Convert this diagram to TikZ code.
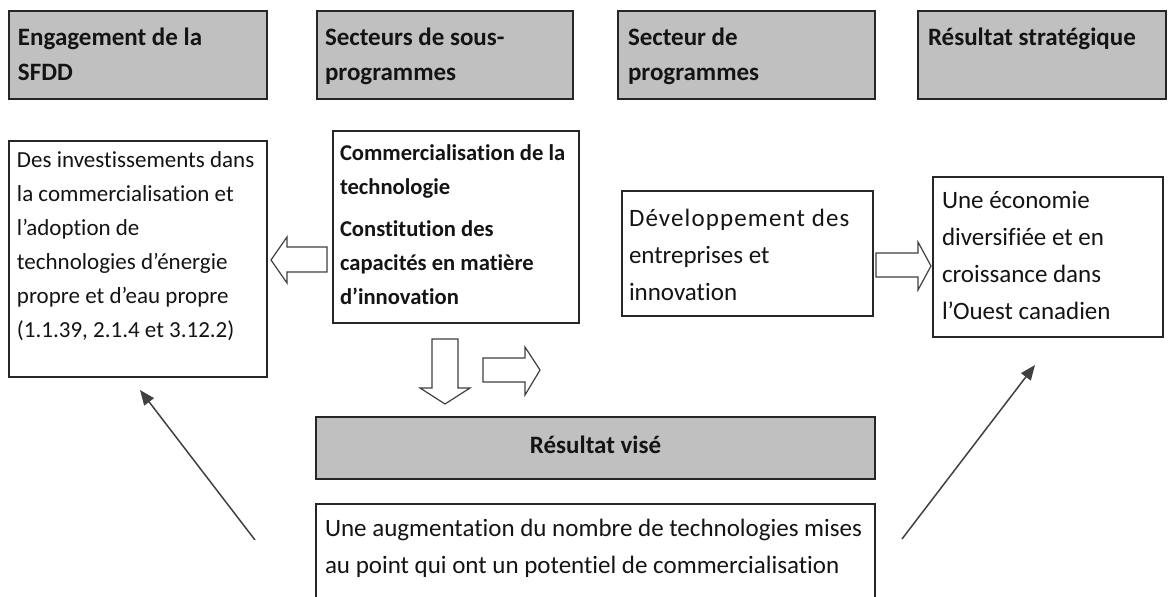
\documentclass[tikz,border=0pt]{standalone}
\usepackage{fontspec}
\setmainfont{Carlito}[Ligatures=NoCommon]
\newfontfamily\spacedfont{Carlito}[Ligatures=NoCommon,LetterSpace=4.5]
\usetikzlibrary{arrows.meta}
\definecolor{hdrgray}{RGB}{192,192,192}
\definecolor{boxline}{RGB}{38,38,38}
\definecolor{txtcol}{RGB}{20,20,20}
\definecolor{arrcol}{RGB}{64,64,64}
\begin{document}
\begin{tikzpicture}[x=0.5pt,y=-0.5pt,
  every node/.style={inner sep=0pt,outer sep=0pt},
  hdrbox/.style={draw=boxline,line width=0.8pt,fill=hdrgray},
  cbox/.style={draw=boxline,line width=0.8pt,fill=white},
  htext/.style={font=\bfseries\fontsize{12.5}{17.5}\selectfont,align=left,anchor=north west,text=txtcol},
  btext/.style={font=\bfseries\fontsize{11.3}{17}\selectfont,align=left,anchor=north west,text=txtcol},
  ltext/.style={font=\fontsize{11.5}{17}\selectfont,align=left,anchor=north west,text=txtcol},
  rtext/.style={font=\fontsize{12.5}{18.5}\selectfont,align=left,anchor=north west,text=txtcol},
  hollow/.style={draw=arrcol,line width=0.6pt,fill=white,line join=miter},
  thinarrow/.style={draw=arrcol,line width=0.75pt,-{Triangle[length=7.5pt,width=6pt]}}
]
\useasboundingbox (0,0) rectangle (1168,597);

% header boxes
\node[hdrbox,minimum width=129pt,minimum height=44pt] (h1) at (138,55) {};
\node[hdrbox,minimum width=128pt,minimum height=44pt] (h2) at (445,55) {};
\node[hdrbox,minimum width=128.5pt,minimum height=44pt] (h3) at (746.5,55) {};
\node[hdrbox,minimum width=124pt,minimum height=44pt] (h4) at (1042,55) {};
\node[htext] (h1t) at (18,27.5) {Engagement de la\\SFDD};
\node[htext] (h2t) at (325,27.5) {Secteurs de sous-\\programmes};
\node[htext] (h3t) at (628,27.5) {Secteur de\\programmes};
\node[htext] (h4t) at (928,27.5) {Résultat stratégique};

% content boxes
\node[cbox,minimum width=129pt,minimum height=118pt] (left) at (138,259) {};
\node[ltext] (leftt) at (17,152) {Des investissements dans\\la commercialisation et\\l’adoption de\\technologies d’énergie\\propre et d’eau propre\\(1.1.39, 2.1.4 et 3.12.2)};

\node[cbox,minimum width=123pt,minimum height=96pt] (mid) at (456,227) {};
\node[btext] (midt) at (340,145) {Commercialisation de la\\technologie\\[4pt]Constitution des\\capacités en matière\\d’innovation};

\node[cbox,minimum width=125.5pt,minimum height=62.5pt] (dev) at (747.5,253.5) {};
\node[rtext] (devt) at (629,209.5) {{\spacedfont Développement des}\\entreprises et\\innovation};

\node[cbox,minimum width=115pt,minimum height=80pt] (right) at (1048,257) {};
\node[rtext] (rightt) at (942,191.5) {Une économie\\diversifiée et en\\croissance dans\\l’Ouest canadien};

\node[hdrbox,minimum width=279.5pt,minimum height=31pt] (vise) at (595.5,448) {};
\node[font=\bfseries\fontsize{12.5}{17}\selectfont,text=txtcol] (viset) at (595.5,445) {Résultat visé};

\node[cbox,minimum width=279.5pt,minimum height=50.5pt] (bottom) at (595.5,554.5) {};
\node[rtext] (bottomt) at (325,519.5) {Une augmentation du nombre de technologies mises\\au point qui ont un potentiel de commercialisation};

% hollow block arrows
\draw[hollow] (327,247) -- (287,247) -- (287,237) -- (271,260) -- (287,283) -- (287,272) -- (327,272) -- cycle;
\draw[hollow] (432,339) -- (458,339) -- (458,388) -- (470,388) -- (445,404) -- (420,388) -- (432,388) -- cycle;
\draw[hollow] (483,358) -- (525,358) -- (525,347) -- (540,370) -- (525,395) -- (525,382) -- (483,382) -- cycle;
\draw[hollow] (876,253) -- (918,253) -- (918,242) -- (931,266) -- (918,290) -- (918,277) -- (876,277) -- cycle;

% thin arrows
\coordinate (la) at (255,540);
\coordinate (lb) at (140,390);
\coordinate (ra) at (902,539);
\coordinate (rb) at (1035,365);
\draw[thinarrow] (la) -- (lb);
\draw[thinarrow] (ra) -- (rb);
\end{tikzpicture}
\end{document}
